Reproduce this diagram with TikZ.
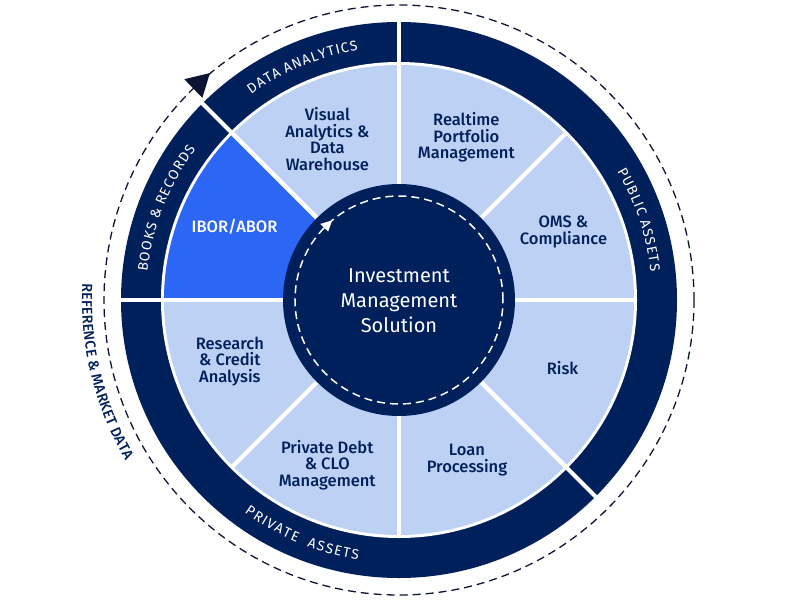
\documentclass[tikz,border=0pt]{standalone}
\usepackage{fontspec}
\setmainfont{Fira Sans}
\newfontfamily\medfont{Fira Sans Medium}
\newfontfamily\ringfont{Fira Sans}
\usetikzlibrary{decorations.text}
\definecolor{navy}{HTML}{00205B}
\definecolor{paleblue}{HTML}{BCD1F3}
\definecolor{brightblue}{HTML}{2B66F5}
\definecolor{ink}{HTML}{0B1433}
\def\lsp{{\kern1.3pt}}
\begin{document}
\begin{tikzpicture}[x=1pt, y=1pt,
		seclabel/.style={align=center, text=navy, font=\medfont\fontsize{16.5}{16.5}\selectfont},
		ringlabel/.style={decorate, decoration={text along path, text align=center, raise=-4.8pt,
			text={|\ringfont\fontsize{14}{15}\selectfont\color{white}|#1}}},
		gap/.style={white, line width=4pt}]
	\useasboundingbox (-399,-300) rectangle (401,300);
	\fill[navy] (0,0) circle (278);
	\fill[white] (0,0) circle (238);
	\fill[paleblue] (0,0) circle (235);
	\fill[brightblue] (0,0) -- (135:235) arc (135:180:235) -- cycle;
	\foreach \a in {0,45,...,315} \draw[gap] (0,0) -- (\a:237);
	\foreach \a in {90,135,180,315} \draw[gap] (0,0) -- (\a:280);
	\fill[navy] (0,0) circle (116);
	\draw[white, line width=1.5pt, dash pattern=on 8pt off 5pt] (0,0) circle (104);
	\fill[white] (130:104) -- (136:109.5) -- (136:98.5) -- cycle;
	\draw[ink, line width=1.3pt, dash pattern=on 8pt off 5pt] (0,0) circle (295);
	\fill[ink] (129.8:295.4) -- (134.2:308) -- (134.2:282) -- cycle;
	\node[align=center, text=white, font=\fontsize{20}{25}\selectfont] (ims) at (0,-1) {Investment\\Management\\Solution};
	\node[seclabel] (oms) at (22.5:178) {OMS \&\\Compliance};
	\node[seclabel] (realtime) at (67.5:176) {Realtime\\Portfolio\\Management};
	\node[seclabel] (visual) at (114:176) {Visual\\Analytics \&\\Data\\Warehouse};
	\node[seclabel, text=white] (ibor) at (156:180) {IBOR/ABOR};
	\node[seclabel] (research) at (200:180) {Research\\\& Credit\\Analysis};
	\node[seclabel] (privdebt) at (246.5:180) {Private Debt\\\& CLO\\Management};
	\node[seclabel] (loan) at (293:174) {Loan\\Processing};
	\node[seclabel] (risk) at (337.5:177) {Risk};
	\path[ringlabel={D\lsp A\lsp T\lsp A\lsp{} A\lsp N\lsp A\lsp L\lsp Y\lsp T\lsp I\lsp C\lsp S}] (157.5:258) arc (157.5:67.5:258);
	\path[ringlabel={P\lsp U\lsp B\lsp L\lsp I\lsp C\lsp{} A\lsp S\lsp S\lsp E\lsp T\lsp S}] (63.5:258) arc (63.5:-26.5:258);
	\path[ringlabel={B\lsp O\lsp O\lsp K\lsp S\lsp{} {\&}\lsp{} R\lsp E\lsp C\lsp O\lsp R\lsp D\lsp S}] (203.5:258) arc (203.5:113.5:258);
	\path[ringlabel={P\lsp R\lsp I\lsp V\lsp A\lsp T\lsp E\lsp{} {\kern2pt} A\lsp S\lsp S\lsp E\lsp T\lsp S}] (202.5:258) arc (202.5:292.5:258);
	\path[decorate, decoration={text along path, text align=center, raise=-5pt,
		text={|\medfont\fontsize{14.5}{16}\selectfont\color{navy}|REFERENCE {\&} MARKET DATA}}] (153.7:312) arc (153.7:233.7:312);
\end{tikzpicture}
\end{document}
